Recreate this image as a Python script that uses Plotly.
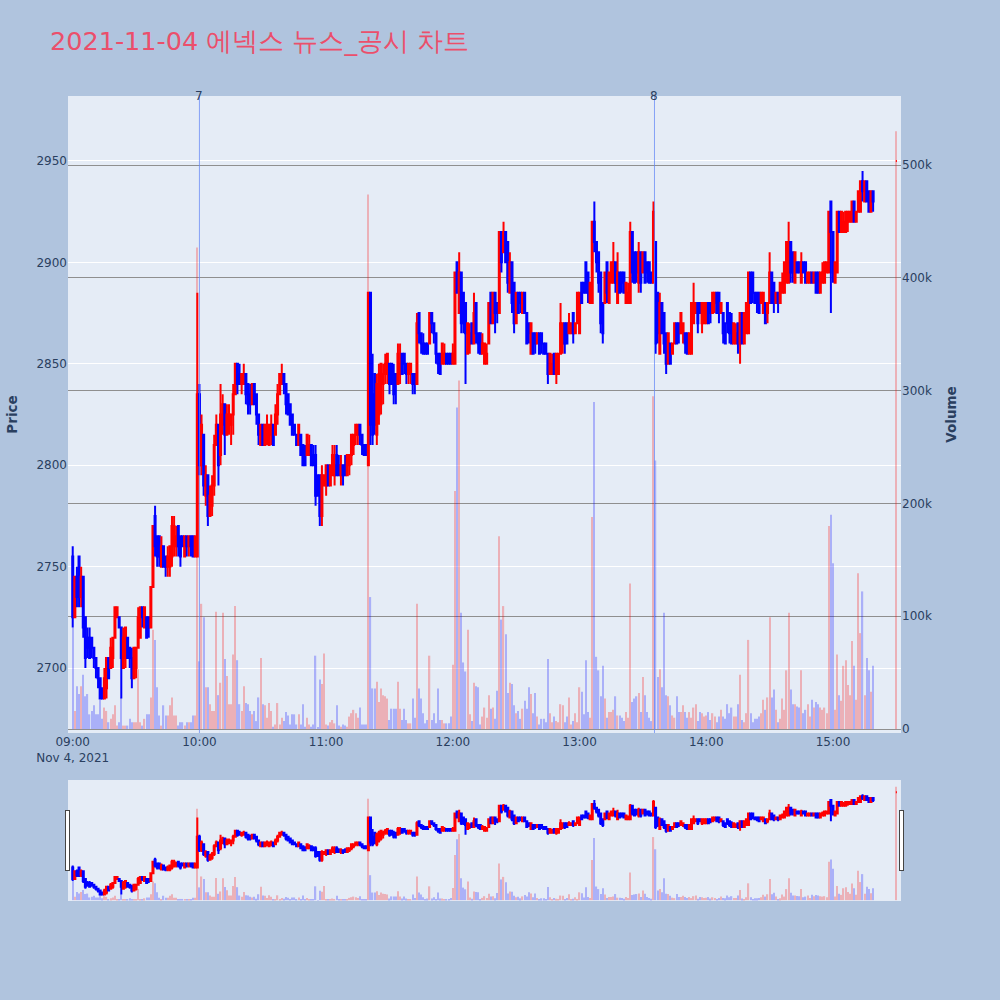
import pandas as pd
import plotly.graph_objects as go
from plotly.subplots import make_subplots

title_text = "2021-11-04 에넥스 뉴스_공시 차트"
session_start = "2021-11-04 09:00"
n_minutes = 380
closing_time = "2021-11-04 15:30"
x_range = ["2021-11-04 08:57:46", "2021-11-04 15:32:12"]

news_times = ["2021-11-04 10:00:00", "2021-11-04 13:35:28"]
news_labels = ["7", "8"]

open_ = [
    2755, 2725, 2745, 2755, 2735, 2745, 2725, 2715, 2715, 2715,
    2710, 2705, 2700, 2695, 2690, 2685, 2690, 2705, 2700, 2705,
    2715, 2725, 2725, 2720, 2700, 2705, 2715, 2710, 2705, 2695,
    2700, 2710, 2715, 2730, 2720, 2725, 2725, 2720, 2740, 2775,
    2765, 2765, 2750, 2760, 2755, 2750, 2750, 2755, 2760, 2760,
    2770, 2765, 2765, 2755, 2765, 2760, 2765, 2765, 2755, 2755,
    2835, 2800, 2815, 2785, 2795, 2775, 2780, 2790, 2810, 2820,
    2805, 2820, 2830, 2815, 2820, 2820, 2825, 2835, 2850, 2845,
    2840, 2840, 2845, 2840, 2835, 2830, 2840, 2835, 2825, 2810,
    2820, 2810, 2815, 2810, 2815, 2820, 2815, 2825, 2835, 2840,
    2845, 2840, 2835, 2830, 2825, 2820, 2815, 2810, 2815, 2810,
    2805, 2805, 2805, 2810, 2805, 2805, 2795, 2795, 2775, 2790,
    2790, 2800, 2790, 2795, 2795, 2805, 2800, 2795, 2800, 2800,
    2795, 2800, 2805, 2810, 2815, 2815, 2820, 2815, 2810, 2810,
    2800, 2885, 2835, 2845, 2815, 2825, 2830, 2840, 2845, 2845,
    2850, 2850, 2845, 2845, 2840, 2845, 2855, 2855, 2850, 2845,
    2845, 2845, 2845, 2840, 2875, 2865, 2860, 2860, 2860, 2860,
    2875, 2870, 2865, 2855, 2855, 2850, 2850, 2855, 2855, 2855,
    2850, 2850, 2900, 2875, 2895, 2885, 2880, 2855, 2860, 2870,
    2860, 2880, 2865, 2865, 2855, 2850, 2850, 2860, 2885, 2870,
    2885, 2880, 2875, 2915, 2905, 2915, 2910, 2885, 2900, 2890,
    2870, 2885, 2885, 2875, 2885, 2875, 2870, 2855, 2865, 2865,
    2860, 2865, 2865, 2860, 2860, 2855, 2845, 2845, 2855, 2845,
    2845, 2855, 2860, 2870, 2870, 2865, 2865, 2875, 2865, 2870,
    2865, 2890, 2890, 2900, 2895, 2880, 2880, 2920, 2910, 2905,
    2895, 2880, 2880, 2900, 2880, 2890, 2890, 2900, 2880, 2895,
    2895, 2895, 2880, 2880, 2880, 2915, 2905, 2905, 2890, 2905,
    2895, 2905, 2900, 2900, 2895, 2890, 2910, 2885, 2855, 2880,
    2875, 2865, 2850, 2860, 2855, 2860, 2870, 2870, 2865, 2865,
    2865, 2865, 2855, 2855, 2870, 2875, 2880, 2880, 2870, 2870,
    2870, 2880, 2880, 2875, 2880, 2885, 2885, 2875, 2875, 2870,
    2880, 2875, 2870, 2860, 2860, 2870, 2860, 2875, 2860, 2865,
    2865, 2895, 2895, 2885, 2885, 2885, 2880, 2875, 2880, 2875,
    2880, 2895, 2890, 2880, 2885, 2880, 2885, 2885, 2890, 2890,
    2910, 2905, 2890, 2900, 2900, 2890, 2900, 2900, 2890, 2890,
    2895, 2890, 2895, 2895, 2885, 2890, 2890, 2895, 2895, 2930,
    2915, 2890, 2895, 2925, 2915, 2915, 2915, 2920, 2920, 2920,
    2930, 2920, 2925, 2925, 2940, 2930, 2940, 2935, 2925, 2935,
    2950,
]

high = [
    2760, 2745, 2750, 2755, 2750, 2745, 2725, 2720, 2720, 2715,
    2710, 2705, 2700, 2695, 2690, 2700, 2705, 2705, 2715, 2715,
    2730, 2730, 2725, 2720, 2720, 2720, 2715, 2710, 2710, 2710,
    2710, 2730, 2730, 2730, 2730, 2725, 2725, 2740, 2770, 2780,
    2765, 2765, 2765, 2760, 2755, 2760, 2760, 2775, 2775, 2770,
    2770, 2765, 2765, 2765, 2765, 2765, 2765, 2765, 2765, 2885,
    2840, 2825, 2815, 2800, 2795, 2790, 2795, 2815, 2825, 2820,
    2840, 2835, 2830, 2830, 2830, 2825, 2840, 2850, 2850, 2850,
    2845, 2850, 2845, 2840, 2840, 2840, 2840, 2835, 2825, 2820,
    2820, 2820, 2825, 2820, 2825, 2820, 2830, 2840, 2845, 2850,
    2845, 2840, 2835, 2830, 2825, 2820, 2815, 2820, 2815, 2810,
    2810, 2815, 2815, 2810, 2810, 2810, 2795, 2795, 2800, 2795,
    2800, 2800, 2800, 2810, 2810, 2810, 2805, 2805, 2800, 2805,
    2805, 2805, 2815, 2815, 2820, 2820, 2820, 2815, 2810, 2810,
    2885, 2885, 2855, 2845, 2845, 2850, 2850, 2850, 2855, 2855,
    2850, 2850, 2850, 2845, 2860, 2860, 2855, 2855, 2850, 2850,
    2850, 2845, 2845, 2875, 2875, 2865, 2865, 2860, 2860, 2875,
    2875, 2870, 2865, 2855, 2855, 2860, 2860, 2855, 2855, 2855,
    2860, 2895, 2900, 2905, 2895, 2885, 2880, 2870, 2870, 2870,
    2885, 2880, 2865, 2865, 2865, 2860, 2860, 2880, 2885, 2885,
    2885, 2880, 2915, 2915, 2920, 2915, 2910, 2905, 2900, 2890,
    2885, 2885, 2885, 2885, 2885, 2875, 2870, 2870, 2865, 2865,
    2865, 2865, 2865, 2860, 2860, 2855, 2855, 2855, 2855, 2855,
    2855, 2880, 2870, 2870, 2870, 2875, 2870, 2875, 2870, 2885,
    2885, 2890, 2890, 2900, 2895, 2890, 2920, 2930, 2910, 2905,
    2895, 2880, 2895, 2900, 2895, 2900, 2910, 2900, 2905, 2895,
    2895, 2895, 2890, 2890, 2920, 2915, 2905, 2905, 2910, 2905,
    2905, 2905, 2900, 2900, 2895, 2930, 2910, 2885, 2885, 2880,
    2875, 2865, 2865, 2860, 2860, 2870, 2870, 2870, 2875, 2870,
    2865, 2865, 2865, 2880, 2890, 2880, 2880, 2880, 2880, 2880,
    2880, 2880, 2880, 2885, 2885, 2885, 2885, 2880, 2875, 2870,
    2880, 2875, 2875, 2870, 2870, 2870, 2875, 2875, 2875, 2880,
    2895, 2895, 2895, 2885, 2885, 2885, 2885, 2885, 2880, 2880,
    2905, 2895, 2890, 2885, 2885, 2890, 2895, 2900, 2910, 2920,
    2910, 2905, 2905, 2900, 2900, 2905, 2900, 2900, 2895, 2895,
    2895, 2895, 2895, 2895, 2895, 2900, 2900, 2900, 2925, 2930,
    2915, 2900, 2925, 2925, 2925, 2925, 2925, 2925, 2925, 2930,
    2930, 2925, 2935, 2940, 2945, 2940, 2940, 2935, 2935, 2935,
    2950,
]

low = [
    2720, 2725, 2730, 2730, 2730, 2715, 2700, 2705, 2705, 2705,
    2700, 2695, 2690, 2685, 2685, 2685, 2685, 2695, 2700, 2700,
    2715, 2725, 2720, 2685, 2700, 2700, 2705, 2700, 2690, 2695,
    2695, 2710, 2715, 2720, 2720, 2715, 2715, 2720, 2740, 2755,
    2750, 2750, 2750, 2750, 2745, 2745, 2745, 2750, 2755, 2755,
    2755, 2750, 2760, 2755, 2755, 2755, 2755, 2755, 2755, 2755,
    2795, 2795, 2785, 2780, 2770, 2775, 2775, 2785, 2810, 2790,
    2800, 2815, 2805, 2815, 2815, 2810, 2815, 2835, 2835, 2840,
    2835, 2840, 2830, 2825, 2825, 2830, 2830, 2820, 2810, 2810,
    2810, 2810, 2810, 2810, 2810, 2810, 2815, 2820, 2835, 2840,
    2835, 2825, 2825, 2820, 2815, 2815, 2810, 2810, 2805, 2800,
    2800, 2805, 2805, 2800, 2800, 2780, 2785, 2770, 2770, 2790,
    2785, 2790, 2790, 2795, 2790, 2795, 2795, 2790, 2790, 2795,
    2795, 2795, 2800, 2805, 2810, 2810, 2810, 2805, 2805, 2805,
    2800, 2810, 2810, 2815, 2810, 2820, 2825, 2830, 2840, 2840,
    2835, 2840, 2830, 2830, 2840, 2840, 2845, 2845, 2840, 2840,
    2840, 2835, 2835, 2840, 2860, 2855, 2855, 2855, 2855, 2860,
    2865, 2860, 2850, 2845, 2845, 2850, 2850, 2850, 2850, 2850,
    2850, 2850, 2885, 2875, 2865, 2865, 2840, 2855, 2855, 2860,
    2860, 2860, 2855, 2855, 2855, 2850, 2850, 2860, 2870, 2870,
    2865, 2870, 2875, 2895, 2905, 2900, 2885, 2885, 2875, 2865,
    2870, 2875, 2875, 2875, 2875, 2860, 2860, 2855, 2855, 2855,
    2860, 2855, 2855, 2855, 2855, 2840, 2845, 2845, 2845, 2840,
    2845, 2855, 2855, 2855, 2860, 2865, 2865, 2860, 2865, 2870,
    2865, 2880, 2885, 2885, 2880, 2880, 2880, 2905, 2895, 2885,
    2865, 2860, 2880, 2880, 2880, 2890, 2890, 2885, 2880, 2885,
    2885, 2885, 2880, 2880, 2880, 2890, 2890, 2890, 2885, 2885,
    2895, 2890, 2890, 2890, 2890, 2890, 2855, 2860, 2855, 2865,
    2855, 2845, 2850, 2850, 2855, 2860, 2860, 2860, 2865, 2860,
    2855, 2855, 2855, 2855, 2870, 2875, 2865, 2875, 2865, 2870,
    2870, 2870, 2870, 2875, 2875, 2875, 2870, 2875, 2860, 2860,
    2865, 2860, 2860, 2860, 2860, 2855, 2850, 2860, 2860, 2865,
    2865, 2880, 2880, 2880, 2875, 2875, 2880, 2875, 2870, 2870,
    2880, 2880, 2875, 2880, 2875, 2880, 2885, 2885, 2890, 2890,
    2890, 2890, 2890, 2895, 2895, 2890, 2895, 2890, 2890, 2890,
    2890, 2890, 2885, 2885, 2885, 2890, 2890, 2895, 2895, 2875,
    2890, 2890, 2895, 2915, 2915, 2915, 2915, 2915, 2920, 2920,
    2920, 2920, 2925, 2925, 2930, 2930, 2930, 2925, 2925, 2925,
    2950,
]

close = [
    2725, 2745, 2735, 2735, 2745, 2720, 2705, 2710, 2705, 2710,
    2705, 2700, 2695, 2685, 2685, 2695, 2705, 2695, 2710, 2715,
    2730, 2730, 2720, 2705, 2715, 2720, 2705, 2705, 2695, 2710,
    2710, 2725, 2730, 2725, 2730, 2715, 2720, 2740, 2770, 2760,
    2755, 2755, 2760, 2750, 2750, 2755, 2760, 2770, 2770, 2765,
    2760, 2755, 2760, 2765, 2760, 2765, 2760, 2755, 2765, 2835,
    2800, 2820, 2790, 2795, 2775, 2785, 2790, 2810, 2820, 2800,
    2825, 2830, 2815, 2825, 2825, 2825, 2835, 2850, 2840, 2840,
    2845, 2845, 2835, 2830, 2830, 2840, 2830, 2825, 2815, 2820,
    2810, 2820, 2820, 2820, 2820, 2810, 2825, 2835, 2845, 2845,
    2840, 2830, 2825, 2820, 2815, 2815, 2810, 2820, 2805, 2800,
    2800, 2815, 2810, 2800, 2800, 2785, 2785, 2775, 2795, 2795,
    2800, 2790, 2800, 2805, 2800, 2795, 2795, 2800, 2795, 2795,
    2805, 2805, 2815, 2815, 2820, 2820, 2815, 2810, 2805, 2805,
    2885, 2820, 2815, 2820, 2840, 2845, 2850, 2845, 2850, 2855,
    2840, 2840, 2835, 2840, 2855, 2850, 2845, 2850, 2845, 2850,
    2850, 2840, 2840, 2870, 2865, 2860, 2855, 2855, 2855, 2875,
    2870, 2865, 2855, 2850, 2845, 2860, 2855, 2850, 2850, 2850,
    2855, 2895, 2885, 2895, 2870, 2870, 2865, 2870, 2865, 2860,
    2875, 2865, 2860, 2855, 2860, 2860, 2855, 2880, 2870, 2885,
    2875, 2875, 2915, 2900, 2915, 2900, 2890, 2900, 2880, 2870,
    2885, 2875, 2880, 2885, 2875, 2860, 2865, 2870, 2855, 2860,
    2865, 2855, 2860, 2855, 2855, 2845, 2855, 2850, 2845, 2855,
    2855, 2870, 2870, 2860, 2860, 2870, 2870, 2865, 2870, 2885,
    2885, 2880, 2885, 2885, 2885, 2890, 2920, 2910, 2900, 2890,
    2870, 2865, 2895, 2885, 2895, 2900, 2900, 2890, 2895, 2885,
    2890, 2885, 2890, 2885, 2915, 2895, 2890, 2895, 2905, 2890,
    2905, 2890, 2895, 2890, 2890, 2925, 2860, 2865, 2880, 2865,
    2860, 2850, 2865, 2850, 2860, 2870, 2860, 2865, 2875, 2870,
    2860, 2855, 2865, 2880, 2880, 2880, 2870, 2875, 2880, 2880,
    2880, 2870, 2875, 2885, 2885, 2875, 2875, 2880, 2865, 2860,
    2870, 2865, 2860, 2870, 2865, 2860, 2875, 2860, 2875, 2880,
    2895, 2880, 2885, 2880, 2880, 2875, 2885, 2885, 2870, 2880,
    2895, 2880, 2880, 2885, 2880, 2890, 2890, 2900, 2910, 2910,
    2895, 2895, 2905, 2895, 2895, 2900, 2895, 2890, 2895, 2895,
    2890, 2895, 2885, 2885, 2895, 2895, 2900, 2900, 2925, 2915,
    2895, 2900, 2925, 2915, 2925, 2920, 2925, 2925, 2925, 2930,
    2920, 2925, 2935, 2940, 2935, 2940, 2930, 2925, 2935, 2930,
    2950,
]

volume_k = [
    90, 16, 38, 31, 38, 48, 29, 31, 13, 16,
    21, 13, 13, 26, 9, 19, 16, 6, 9, 13,
    21, 3, 6, 28, 3, 3, 3, 9, 6, 6,
    6, 53, 6, 3, 9, 13, 13, 28, 88, 79,
    37, 12, 3, 21, 12, 12, 21, 28, 12, 12,
    3, 6, 6, 3, 6, 6, 6, 12, 12, 427,
    60, 111, 99, 37, 37, 22, 16, 16, 104, 30,
    41, 103, 62, 47, 22, 22, 66, 109, 61, 22,
    16, 38, 23, 22, 16, 13, 16, 7, 28, 63,
    22, 21, 10, 23, 16, 2, 4, 23, 4, 10,
    7, 15, 12, 4, 13, 13, 4, 13, 4, 22,
    2, 10, 4, 2, 4, 65, 1, 44, 40, 67,
    4, 3, 6, 8, 5, 21, 3, 2, 4, 3,
    2, 11, 14, 17, 14, 10, 19, 4, 4, 4,
    474, 117, 36, 36, 42, 24, 36, 30, 29, 27,
    8, 18, 18, 18, 42, 18, 8, 18, 8, 5,
    5, 27, 10, 111, 36, 27, 14, 5, 8, 65,
    8, 14, 5, 36, 8, 8, 5, 5, 5, 11,
    57, 211, 285, 309, 103, 59, 51, 88, 13, 7,
    41, 38, 37, 4, 11, 19, 10, 30, 18, 19,
    9, 34, 171, 97, 109, 84, 32, 41, 40, 21,
    14, 16, 9, 18, 25, 18, 37, 31, 14, 32,
    11, 4, 9, 9, 6, 62, 14, 6, 11, 7,
    6, 22, 21, 6, 11, 28, 4, 7, 14, 6,
    37, 33, 13, 61, 15, 10, 188, 290, 64, 52,
    29, 56, 27, 10, 15, 15, 17, 29, 12, 12,
    10, 7, 15, 10, 129, 24, 27, 29, 32, 15,
    46, 30, 15, 10, 7, 295, 238, 46, 53, 37,
    103, 30, 29, 21, 12, 10, 29, 15, 15, 21,
    15, 10, 15, 10, 19, 22, 7, 15, 14, 11,
    12, 15, 8, 14, 11, 6, 11, 17, 11, 9,
    22, 14, 19, 11, 11, 22, 48, 8, 6, 14,
    79, 14, 6, 9, 9, 11, 14, 26, 17, 28,
    99, 28, 35, 17, 6, 9, 27, 17, 52, 103,
    35, 22, 22, 20, 19, 52, 14, 17, 22, 11,
    26, 19, 24, 22, 19, 17, 19, 14, 180, 190,
    147, 17, 66, 30, 25, 56, 61, 39, 30, 78,
    56, 26, 138, 85, 122, 30, 63, 52, 33, 56,
    530,
]

times = list(pd.date_range(session_start, periods=n_minutes, freq="min")) + [pd.Timestamp(closing_time)]
volume = [v * 1000 for v in volume_k]

UP = "#FF0000"
DOWN = "#0000FF"
vol_colors = [UP if c >= o else DOWN for o, c in zip(open_, close)]

fig = make_subplots(specs=[[{"secondary_y": True}]])

fig.add_trace(
    go.Candlestick(
        x=times, open=open_, high=high, low=low, close=close,
        increasing=dict(line=dict(color=UP, width=2), fillcolor=UP),
        decreasing=dict(line=dict(color=DOWN, width=2), fillcolor=DOWN),
        whiskerwidth=0, name="Price", showlegend=False,
    ),
    secondary_y=False,
)

fig.add_trace(
    go.Bar(
        x=times, y=volume, marker=dict(color=vol_colors, line=dict(width=0)),
        opacity=0.25, name="Volume", showlegend=False,
    ),
    secondary_y=True,
)

shapes = []
annotations = []
for t, lab in zip(news_times, news_labels):
    shapes.append(dict(type="line", xref="x", yref="paper", x0=t, x1=t, y0=0, y1=1,
                       line=dict(color="rgba(100,135,245,0.75)", width=1)))
    annotations.append(dict(x=t, y=1, xref="x", yref="paper", text=lab, showarrow=False,
                            yanchor="middle", xanchor="center",
                            font=dict(size=12, color="#2a3f5f")))

fig.update_layout(
    width=1000, height=1000,
    title=dict(text=title_text, x=0.05, xanchor="left", y=0.959, yanchor="middle",
               yref="container", font=dict(size=25.5, color="#EB4F6B")),
    paper_bgcolor="#B0C4DE",
    plot_bgcolor="#E5ECF6",
    font=dict(family="DejaVu Sans", size=12, color="#2a3f5f"),
    margin=dict(l=68, r=99, t=96, b=100),
    showlegend=False,
    shapes=shapes,
    annotations=annotations,
    bargap=0.4,
)

fig.update_xaxes(
    type="date", range=x_range, domain=[0, 1], showgrid=False, automargin=False,
    rangeslider=dict(visible=True, range=x_range, thickness=0.15),
)
fig.update_yaxes(
    title=dict(text="<b>Price</b>", font=dict(size=13.5)),
    range=[2668, 2982], gridcolor="white", zeroline=False, automargin=False,
    secondary_y=False,
)
fig.update_yaxes(
    title=dict(text="<b>Volume</b>", font=dict(size=13.5)),
    range=[-3550, 561300], gridcolor="#8f8f8f", showgrid=True, zeroline=False,
    automargin=False, secondary_y=True,
)

fig.write_html(
    "out.html",
    config={"displayModeBar": False},
    post_script="document.body.style.margin='0';document.body.style.padding='0';",
)
